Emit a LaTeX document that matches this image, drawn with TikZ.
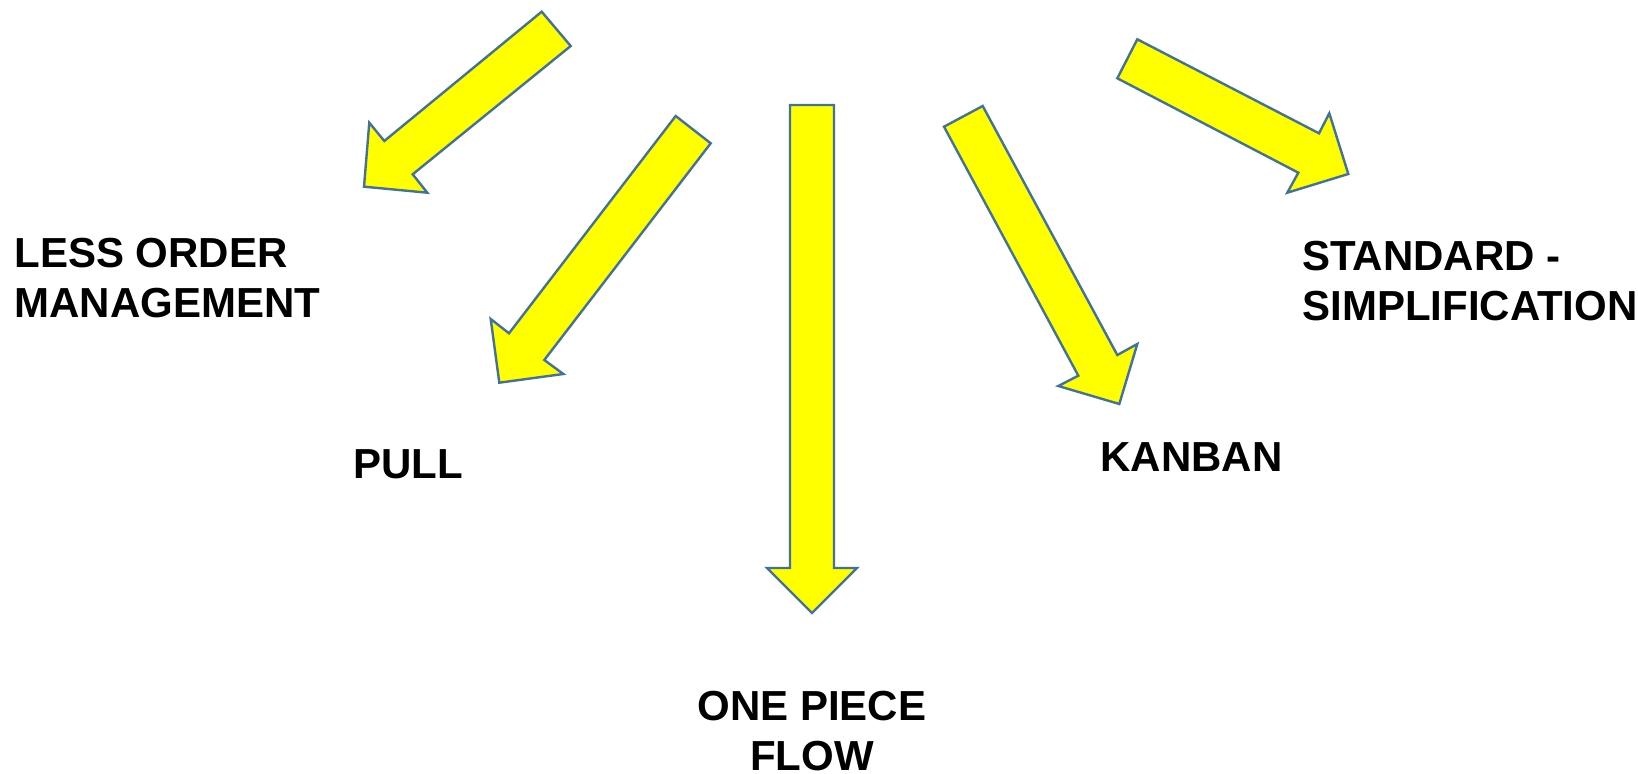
\documentclass[tikz,border=0pt]{standalone}
\usepackage{fontspec}
\setmainfont{Liberation Sans}
\definecolor{arrowfill}{HTML}{FFFF00}
\definecolor{arrowline}{HTML}{41719C}
\begin{document}
\begin{tikzpicture}[x=0.5pt,y=-0.5pt,
  bigarrow/.style={fill=arrowfill,draw=arrowline,line width=1.2pt,line join=miter},
  lbl/.style={inner sep=0pt,font=\fontsize{21pt}{25pt}\selectfont\bfseries}]
\useasboundingbox (0,0) rectangle (1638,774);
% arrow 1 (to LESS ORDER MANAGEMENT)
\draw[bigarrow] (541.7,11.7) -- (570.7,46) -- (412.7,174.3) -- (427.3,192.7) -- (364,186.7) -- (369.3,122.7) -- (384.3,141) -- cycle;
% arrow 2 (to PULL)
\draw[bigarrow] (675.7,116) -- (710.7,143.3) -- (544.3,360) -- (563.3,374) -- (499.3,382.7) -- (490.7,319) -- (509,333.3) -- cycle;
% arrow 3 (to ONE PIECE FLOW)
\draw[bigarrow] (790,105) -- (834,105) -- (834,568) -- (857,568) -- (812,613) -- (767,568) -- (790,568) -- cycle;
% arrow 4 (to KANBAN)
\draw[bigarrow] (982.7,106) -- (944,126.7) -- (1078.3,375.7) -- (1058.3,386) -- (1119.3,404) -- (1137.3,344) -- (1117.3,355) -- cycle;
% arrow 5 (to STANDARD - SIMPLIFICATION)
\draw[bigarrow] (1137.3,39.3) -- (1117.3,78.3) -- (1298.3,172.7) -- (1287.3,192.7) -- (1348.3,174) -- (1329.3,113.3) -- (1319,133.3) -- cycle;
% labels
\node[lbl,anchor=north west,align=left] (less) at (14,238) {LESS ORDER\\MANAGEMENT};
\node[lbl,anchor=north west] (pull) at (353,449) {PULL};
\node[lbl,anchor=north,align=center] (one) at (812,691) {ONE PIECE\\FLOW};
\node[lbl,anchor=north west] (kanban) at (1100,442) {KANBAN};
\node[lbl,anchor=north west,align=left] (std) at (1302,241) {STANDARD -\\SIMPLIFICATION};
\end{tikzpicture}
\end{document}
